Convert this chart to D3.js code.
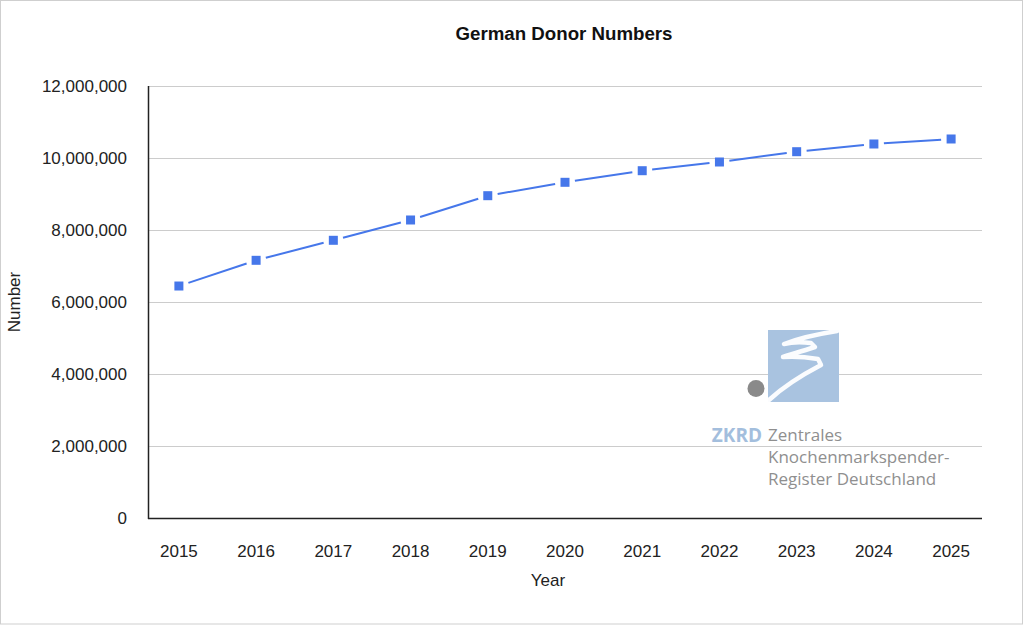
<!DOCTYPE html>
<html>
<head>
<meta charset="utf-8">
<script src="https://cdn.jsdelivr.net/npm/d3@7"></script>
<style>
  html, body { margin: 0; padding: 0; background: #fff; }
  svg { display: block; }
  text { font-family: "Liberation Sans", Arial, sans-serif; fill: #222; }
</style>
</head>
<body>
<svg id="chart" width="1024" height="625"></svg>
<script>
// ---- Data ----
const years = ["2015","2016","2017","2018","2019","2020","2021","2022","2023","2024","2025"];
const donors = [6444000, 7158000, 7714000, 8278000, 8953000, 9325000, 9647000, 9889000, 10175000, 10389000, 10528000];
const yTicks = [0, 2000000, 4000000, 6000000, 8000000, 10000000, 12000000];
const title = "German Donor Numbers";
const xTitle = "Year";
const yTitle = "Number";

(function () {
const svg = d3.select("#chart");
const W = 1024, H = 625;
const pL = 148, pR = 982, pT = 86, pB = 518;

// page border
svg.append("rect").attr("x", 0.5).attr("y", 0.5).attr("width", W - 2).attr("height", H - 1.5)
  .attr("fill", "#fff").attr("stroke", "#cfcfcf");

const x = d3.scalePoint().domain(years).range([pL, pR]).padding(0.4);
const y = d3.scaleLinear().domain([0, 12000000]).range([pB, pT]);
const fmt = d3.format(",");

// gridlines
svg.append("g").selectAll("line").data(yTicks.filter(d => d > 0)).join("line")
  .attr("x1", pL).attr("x2", pR)
  .attr("y1", d => Math.round(y(d)) + 0.5).attr("y2", d => Math.round(y(d)) + 0.5)
  .attr("stroke", "#cccccc").attr("stroke-width", 1);

// logo (watermark)
const logoFont = "'Open Sans', 'Noto Sans', sans-serif";
const logo = svg.append("g");
logo.append("rect").attr("x", 768).attr("y", 330).attr("width", 71).attr("height", 72).attr("fill", "#a9c3e0");
logo.append("path")
  .attr("d", "M769,400 C782,388 800,376 821,365 L818,359 C806,357 795,356 783,357 C795,353 806,350 815,347 L811,343 C802,342 792,342 784,344 C800,338 818,334 837,331")
  .attr("fill", "none").attr("stroke", "#fff").attr("stroke-width", 4.5)
  .attr("stroke-linecap", "round").attr("stroke-linejoin", "round").attr("opacity", 0.95);
logo.append("circle").attr("cx", 756).attr("cy", 388.5).attr("r", 8.5).attr("fill", "#8a8a8a");
logo.append("text").attr("x", 762).attr("y", 442).attr("text-anchor", "end").text("ZKRD")
  .style("font-family", logoFont).style("font-size", "19px").style("font-weight", "bold").style("fill", "#a3bedd");
[["Zentrales", 441], ["Knochenmarkspender-", 463], ["Register Deutschland", 485]].forEach(([t, yy]) => {
  logo.append("text").attr("x", 768).attr("y", yy).text(t)
    .style("font-family", logoFont).style("font-size", "17px").style("fill", "#8f8f8f");
});

// axes lines
svg.append("line").attr("x1", pL + 0.5).attr("x2", pL + 0.5).attr("y1", pT).attr("y2", pB + 1)
  .attr("stroke", "#222").attr("stroke-width", 1.5);
svg.append("line").attr("x1", pL).attr("x2", pR).attr("y1", pB + 0.5).attr("y2", pB + 0.5)
  .attr("stroke", "#222").attr("stroke-width", 1.5);

// y tick labels
svg.append("g").selectAll("text").data(yTicks).join("text")
  .attr("x", 127).attr("y", d => y(d)).attr("dy", "0.35em")
  .attr("text-anchor", "end").style("font-size", "17px").text(d => fmt(d));

// x tick labels
svg.append("g").selectAll("text").data(years).join("text")
  .attr("x", d => x(d)).attr("y", 557)
  .attr("text-anchor", "middle").style("font-size", "17px").text(d => d);

// line segments with gaps around markers
const pts = years.map((yr, i) => [x(yr), y(donors[i])]);
const gap = 10;
const segs = [];
for (let i = 0; i < pts.length - 1; i++) {
  const [x0, y0] = pts[i], [x1, y1] = pts[i + 1];
  const dx = x1 - x0, dy = y1 - y0, L = Math.hypot(dx, dy);
  const ux = dx / L, uy = dy / L;
  segs.push([[x0 + ux * gap, y0 + uy * gap], [x1 - ux * gap, y1 - uy * gap]]);
}
const lineGen = d3.line();
svg.append("g").selectAll("path").data(segs).join("path")
  .attr("d", d => lineGen(d)).attr("fill", "none")
  .attr("stroke", "#4677ea").attr("stroke-width", 2);

// markers
const ms = 9;
svg.append("g").selectAll("rect").data(years).join("rect")
  .attr("x", d => x(d) - ms / 2).attr("y", (d, i) => y(donors[i]) - ms / 2)
  .attr("width", ms).attr("height", ms).attr("fill", "#4677ea");

// titles
svg.append("text").attr("x", 564).attr("y", 40).attr("text-anchor", "middle")
  .style("font-size", "18.7px").style("font-weight", "bold").style("fill", "#111").text(title);
svg.append("text").attr("x", 548).attr("y", 586).attr("text-anchor", "middle")
  .style("font-size", "17px").text(xTitle);
svg.append("text").attr("transform", "translate(20,302) rotate(-90)").attr("text-anchor", "middle")
  .style("font-size", "17px").text(yTitle);
})();
</script>
</body>
</html>
